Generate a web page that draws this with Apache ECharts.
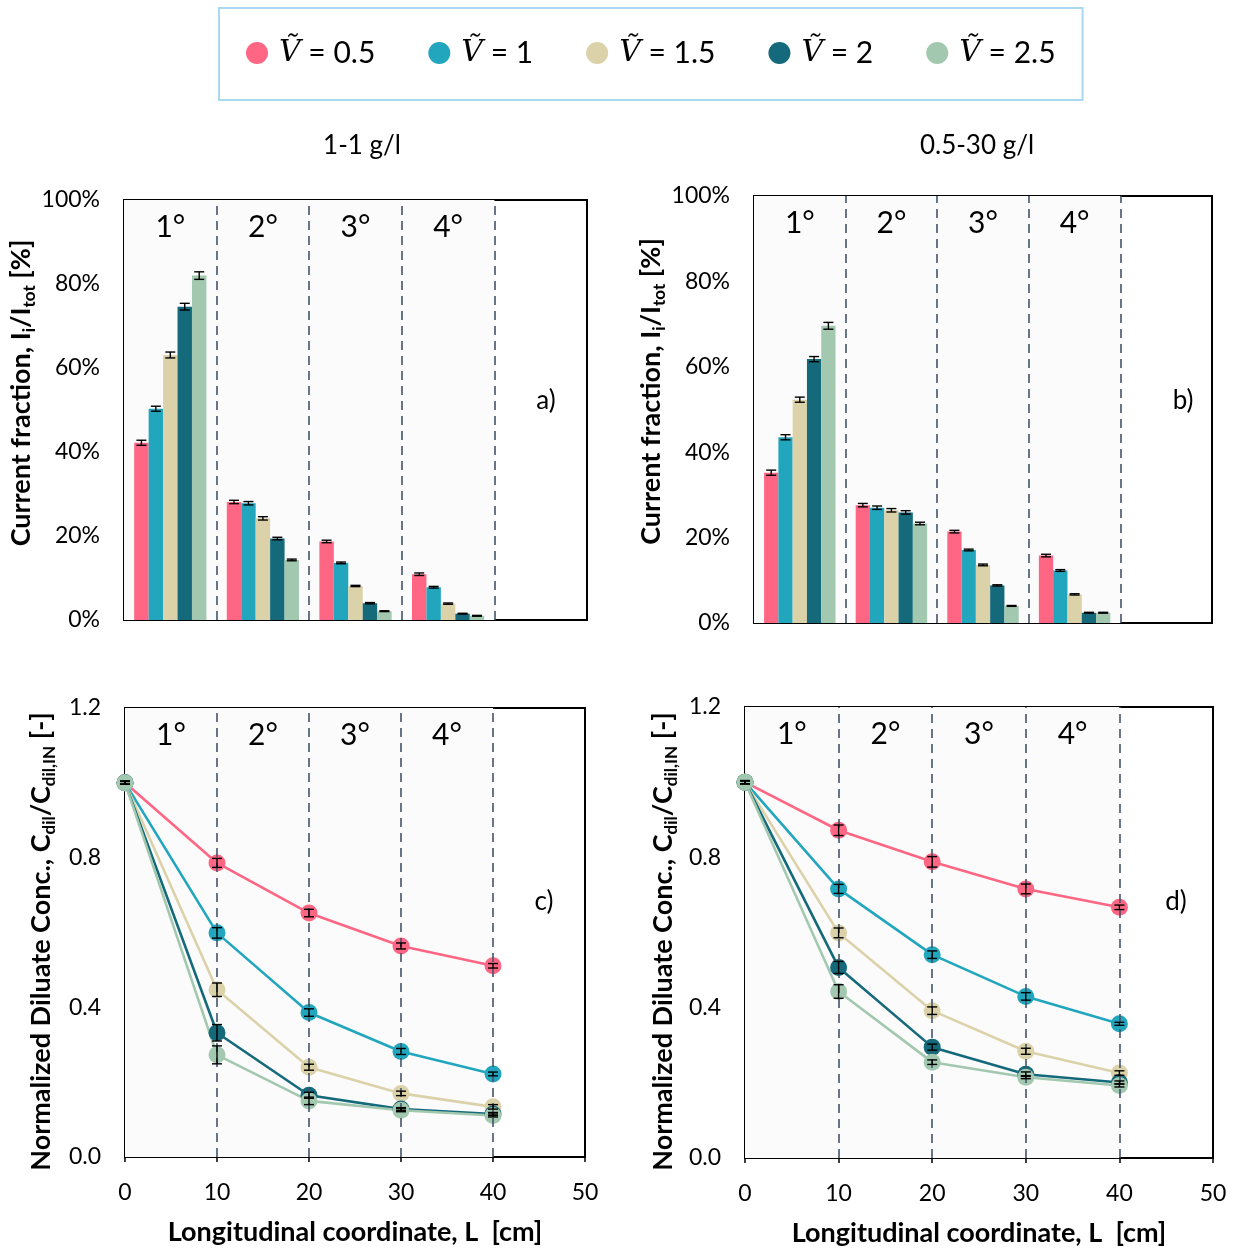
<!DOCTYPE html>
<html>
<head>
<meta charset="utf-8">
<script src="https://cdn.jsdelivr.net/npm/echarts/dist/echarts.min.js"></script>
<style>
  html, body { margin: 0; padding: 0; background: #ffffff; }
  #chart { width: 1236px; height: 1250px; }
</style>
</head>
<body>
<div id="chart"></div>
<script>
// Stage labels (one band per stack stage) and flow-rate ratios
const stageLabels = ['1°', '2°', '3°', '4°', ''];
const flowRatios = ['0.5', '1', '1.5', '2', '2.5'];
const positionsCm = [0, 10, 20, 30, 40];

// a) 1-1 g/l : current fraction per stage [%]
const fracA_05 = [42.2, 28.1, 18.7, 10.9];
const fracA_1  = [50.3, 27.8, 13.6, 7.8];
const fracA_15 = [63.1, 24.2, 8.1, 3.9];
const fracA_2  = [74.6, 19.4, 4.0, 1.5];
const fracA_25 = [82.0, 14.3, 2.1, 1.0];
const errA_05 = [0.6, 0.4, 0.3, 0.3];
const errA_1  = [0.6, 0.4, 0.2, 0.2];
const errA_15 = [0.7, 0.4, 0.15, 0.15];
const errA_2  = [0.8, 0.3, 0.15, 0.1];
const errA_25 = [0.9, 0.2, 0.1, 0.1];

// b) 0.5-30 g/l : current fraction per stage [%]
const fracB_05 = [35.2, 27.6, 21.4, 15.8];
const fracB_1  = [43.5, 27.0, 17.1, 12.3];
const fracB_15 = [52.3, 26.4, 13.6, 6.7];
const fracB_2  = [61.8, 25.9, 8.8, 2.4];
const fracB_25 = [69.6, 23.3, 4.0, 2.4];
const errB_05 = [0.6, 0.4, 0.3, 0.3];
const errB_1  = [0.6, 0.4, 0.2, 0.2];
const errB_15 = [0.6, 0.4, 0.2, 0.15];
const errB_2  = [0.6, 0.4, 0.15, 0.1];
const errB_25 = [0.8, 0.3, 0.1, 0.1];

// c) 1-1 g/l : normalized diluate concentration along the stack
const concC_05 = [1.0, 0.786, 0.652, 0.564, 0.511];
const concC_1  = [1.0, 0.599, 0.386, 0.282, 0.222];
const concC_15 = [1.0, 0.447, 0.240, 0.170, 0.134];
const concC_2  = [1.0, 0.332, 0.165, 0.128, 0.115];
const concC_25 = [1.0, 0.273, 0.150, 0.125, 0.111];
const errC_05 = [0.004, 0.012, 0.010, 0.008, 0.006];
const errC_1  = [0.004, 0.014, 0.010, 0.008, 0.005];
const errC_15 = [0.004, 0.018, 0.008, 0.006, 0.006];
const errC_2  = [0.004, 0.022, 0.008, 0.004, 0.004];
const errC_25 = [0.004, 0.024, 0.010, 0.004, 0.004];

// d) 0.5-30 g/l : normalized diluate concentration along the stack
const concD_05 = [1.0, 0.872, 0.788, 0.716, 0.667];
const concD_1  = [1.0, 0.716, 0.541, 0.430, 0.357];
const concD_15 = [1.0, 0.599, 0.392, 0.284, 0.226];
const concD_2  = [1.0, 0.507, 0.295, 0.223, 0.201];
const concD_25 = [1.0, 0.443, 0.255, 0.215, 0.193];
const errD_05 = [0.004, 0.014, 0.014, 0.013, 0.006];
const errD_1  = [0.004, 0.012, 0.010, 0.010, 0.004];
const errD_15 = [0.004, 0.013, 0.010, 0.008, 0.006];
const errD_2  = [0.004, 0.016, 0.008, 0.006, 0.004];
const errD_25 = [0.004, 0.018, 0.006, 0.004, 0.004];

const fracA = [fracA_05, fracA_1, fracA_15, fracA_2, fracA_25];
const errA = [errA_05, errA_1, errA_15, errA_2, errA_25];
const fracB = [fracB_05, fracB_1, fracB_15, fracB_2, fracB_25];
const errB = [errB_05, errB_1, errB_15, errB_2, errB_25];
const concC = [concC_05, concC_1, concC_15, concC_2, concC_25];
const errC = [errC_05, errC_1, errC_15, errC_2, errC_25];
const concD = [concD_05, concD_1, concD_15, concD_2, concD_25];
const errD = [errD_05, errD_1, errD_15, errD_2, errD_25];

const FONT = 'Lato, "Open Sans", sans-serif';
const palette = ['#FF6684', '#22A6BE', '#DCD2AA', '#14697A', '#A2C8AF'];
const seriesNames = flowRatios.map(r => 'V ' + r);
const CAT_GAP = 0.22;

const chart = echarts.init(document.getElementById('chart'), null, { renderer: 'canvas' });

const grids = [
  { left: 124, top: 200, width: 463, height: 420 },
  { left: 754, top: 196, width: 458, height: 427 },
  { left: 125, top: 708, width: 460, height: 449 },
  { left: 745, top: 707, width: 468, height: 451 }
].map(g => Object.assign(g, {
  show: true, borderColor: '#000', borderWidth: 2,
  backgroundColor: 'transparent', outerBoundsMode: 'none', containLabel: false
}));

const yFracName = '{t|Current fraction, I}{s|i}{t|/I}{s|tot}{t| [%]}';
const yConcName = '{t|Normalized Diluate Conc., C}{s|dil}{t|/C}{s|dil,IN}{t| [-]}';
const nameRich = {
  t: { fontFamily: FONT, fontSize: 27, fontWeight: 'bold', color: '#000', lineHeight: 33 },
  s: { fontFamily: FONT, fontSize: 17, fontWeight: 'bold', color: '#000', lineHeight: 17, verticalAlign: 'bottom' }
};

function stageAxis(gi) {
  return {
    type: 'category', gridIndex: gi, position: 'top', data: stageLabels, boundaryGap: true,
    axisLine: { show: false }, axisTick: { show: false }, splitLine: { show: false },
    axisLabel: { show: false }
  };
}
function helperAxis(gi, max) {
  return { type: 'value', gridIndex: gi, min: 0, max: max, show: false };
}
function lengthAxis(gi) {
  return {
    type: 'value', gridIndex: gi, min: 0, max: 50, interval: 10,
    axisLine: { show: true, onZero: false, lineStyle: { color: '#000', width: 2 } },
    axisTick: { show: true, inside: false, length: 5, lineStyle: { color: '#000', width: 1.5 } },
    axisLabel: { fontSize: 23, margin: 24, color: '#000', fontFamily: FONT },
    splitLine: { show: false },
    name: 'Longitudinal coordinate, L  [cm]', nameLocation: 'middle', nameGap: 62,
    nameTextStyle: { fontFamily: FONT, fontSize: 27, fontWeight: 'bold', color: '#000' }
  };
}
// pad shifts the rotated title along the axis (left pad moves it up, right pad moves it down)
function fracAxis(gi, gap, pad) {
  return {
    type: 'value', gridIndex: gi, min: 0, max: 100, interval: 10,
    axisLine: { show: true, lineStyle: { color: '#000', width: 2 } },
    axisTick: { show: true, inside: true, length: 6, lineStyle: { color: '#000', width: 1.5 } },
    axisLabel: { formatter: v => (v % 20 === 0 ? v + '%' : ''), fontSize: 23, margin: 24, color: '#000', fontFamily: FONT },
    splitLine: { show: false },
    name: yFracName, nameLocation: 'middle', nameRotate: 90, nameGap: gap,
    nameTextStyle: { rich: nameRich, padding: pad }
  };
}
function concAxis(gi, gap, pad) {
  return {
    type: 'value', gridIndex: gi, min: 0, max: 1.2, interval: 0.2,
    axisLine: { show: true, lineStyle: { color: '#000', width: 2 } },
    axisTick: { show: true, inside: true, length: 6, lineStyle: { color: '#000', width: 1.5 } },
    axisLabel: { formatter: v => (Math.round(v * 10) % 4 === 0 ? v.toFixed(1) : ''), fontSize: 23, margin: 24, color: '#000', fontFamily: FONT },
    splitLine: { show: false },
    name: yConcName, nameLocation: 'middle', nameRotate: 90, nameGap: gap,
    nameTextStyle: { rich: nameRich, padding: pad }
  };
}

const xAxes = [
  stageAxis(0), helperAxis(0, 5),
  stageAxis(1), helperAxis(1, 5),
  lengthAxis(2), stageAxis(2),
  lengthAxis(3), stageAxis(3)
];
const yAxes = [
  fracAxis(0, 72, [0, 0, 0, 34]),
  fracAxis(1, 76, [0, 0, 0, 36]),
  concAxis(2, 67, [0, 18, 0, 0]),
  concAxis(3, 65, [0, 18, 0, 0])
];

// shaded stage region plus dashed stage boundaries, drawn beneath the data
function stageBackdrop(xi, yi, end, bounds) {
  return {
    type: 'line', xAxisIndex: xi, yAxisIndex: yi, data: [], z: -1, silent: true,
    markArea: { silent: true, itemStyle: { color: '#FBFBFB' }, data: [[{ xAxis: 0 }, { xAxis: end }]] },
    markLine: {
      silent: true, symbol: 'none', label: { show: false },
      lineStyle: { color: '#44546A', type: [9, 6], width: 1.6 },
      data: bounds.map(b => ({ xAxis: b }))
    }
  };
}

// stage names written near the top of each band
function stageNames(xi, yi) {
  return {
    type: 'custom', xAxisIndex: xi, yAxisIndex: yi, z: 4, silent: true,
    data: stageLabels.map((s, k) => [k, s]),
    renderItem(params, api) {
      const k = api.value(0);
      const x = api.coord([k, 0])[0];
      const y = params.coordSys.y + 27;
      return {
        type: 'text', x: x, y: y,
        style: { text: stageLabels[k], fontSize: 30, fontFamily: FONT, fill: '#000', align: 'center', verticalAlign: 'middle' }
      };
    }
  };
}

function barSeries(xi, yi, vals) {
  return vals.map((arr, si) => ({
    type: 'bar', name: seriesNames[si], xAxisIndex: xi, yAxisIndex: yi,
    data: arr, barGap: '0%', barCategoryGap: (CAT_GAP * 100) + '%',
    itemStyle: { color: palette[si] }, z: 2
  }));
}

function errorBar(cx, yt, yb) {
  const cap = 5;
  const st = { stroke: '#000', lineWidth: 1.4 };
  return {
    type: 'group', children: [
      { type: 'line', shape: { x1: cx, y1: yt, x2: cx, y2: yb }, style: st },
      { type: 'line', shape: { x1: cx - cap, y1: yt, x2: cx + cap, y2: yt }, style: st },
      { type: 'line', shape: { x1: cx - cap, y1: yb, x2: cx + cap, y2: yb }, style: st }
    ]
  };
}

function barErrors(xi, yi, vals, errs) {
  const data = [];
  vals.forEach((arr, si) => arr.forEach((v, gi) => data.push([gi, v, errs[si][gi], si])));
  return {
    type: 'custom', xAxisIndex: xi, yAxisIndex: yi, z: 5, silent: true, data: data,
    encode: { x: 0, y: 1 },
    renderItem(params, api) {
      const gi = api.value(0), v = api.value(1), e = api.value(2), si = api.value(3);
      const band = api.size([1, 0])[0];
      const bw = band * (1 - CAT_GAP) / vals.length;
      const cx = api.coord([gi, v])[0] - band * (1 - CAT_GAP) / 2 + bw * (si + 0.5);
      return errorBar(cx, api.coord([gi, v + e])[1], api.coord([gi, v - e])[1]);
    }
  };
}

function lineSeries(xi, yi, vals) {
  return vals.map((arr, si) => ({
    type: 'line', name: seriesNames[si], xAxisIndex: xi, yAxisIndex: yi,
    data: arr.map((v, k) => [positionsCm[k], v]),
    symbol: 'circle', symbolSize: 17, showSymbol: true,
    lineStyle: { color: palette[si], width: 2.6 },
    itemStyle: { color: palette[si] }, z: 2
  }));
}

function lineErrors(xi, yi, vals, errs) {
  const data = [];
  vals.forEach((arr, si) => arr.forEach((v, k) => data.push([positionsCm[k], v, errs[si][k]])));
  return {
    type: 'custom', xAxisIndex: xi, yAxisIndex: yi, z: 5, silent: true, data: data,
    encode: { x: 0, y: 1 },
    renderItem(params, api) {
      const x = api.value(0), v = api.value(1), e = api.value(2);
      const cx = api.coord([x, v])[0];
      return errorBar(cx, api.coord([x, v + e])[1], api.coord([x, v - e])[1]);
    }
  };
}

const series = [].concat(
  stageBackdrop(1, 0, 4, [1, 2, 3, 4]),
  stageBackdrop(3, 1, 4, [1, 2, 3, 4]),
  stageBackdrop(4, 2, 40, [10, 20, 30, 40]),
  stageBackdrop(6, 3, 40, [10, 20, 30, 40]),
  stageNames(0, 0), stageNames(2, 1), stageNames(5, 2), stageNames(7, 3),
  barSeries(0, 0, fracA), barErrors(0, 0, fracA, errA),
  barSeries(2, 1, fracB), barErrors(2, 1, fracB, errB),
  lineSeries(4, 2, concC), lineErrors(4, 2, concC, errC),
  lineSeries(6, 3, concD), lineErrors(6, 3, concD, errD)
);

function panelText(text, x, y, size) {
  return {
    type: 'text', x: x, y: y, silent: true,
    style: { text: text, fontSize: size, fontFamily: FONT, fill: '#000', align: 'center', verticalAlign: 'middle' }
  };
}

chart.setOption({
  animation: false,
  backgroundColor: '#ffffff',
  grid: grids,
  xAxis: xAxes,
  yAxis: yAxes,
  legend: {
    data: seriesNames, top: 8, left: 219, orient: 'horizontal',
    icon: 'circle', itemWidth: 22, itemHeight: 22, itemGap: 53,
    padding: [30, 27, 32, 27], borderColor: '#A9D9F2', borderWidth: 2,
    formatter: name => '{v|V\u0303} = ' + name.slice(2),
    textStyle: {
      fontFamily: FONT, fontSize: 30, color: '#000', padding: [0, 0, 0, 6],
      rich: { v: { fontFamily: '"DejaVu Serif", serif', fontStyle: 'italic', fontSize: 30, color: '#000' } }
    }
  },
  graphic: [
    panelText('1-1 g/l', 362, 146, 26),
    panelText('0.5-30 g/l', 977, 146, 26),
    panelText('a)', 546, 401, 26),
    panelText('b)', 1183, 401, 26),
    panelText('c)', 544, 902, 26),
    panelText('d)', 1176, 902, 26)
  ],
  series: series
});
</script>
</body>
</html>
